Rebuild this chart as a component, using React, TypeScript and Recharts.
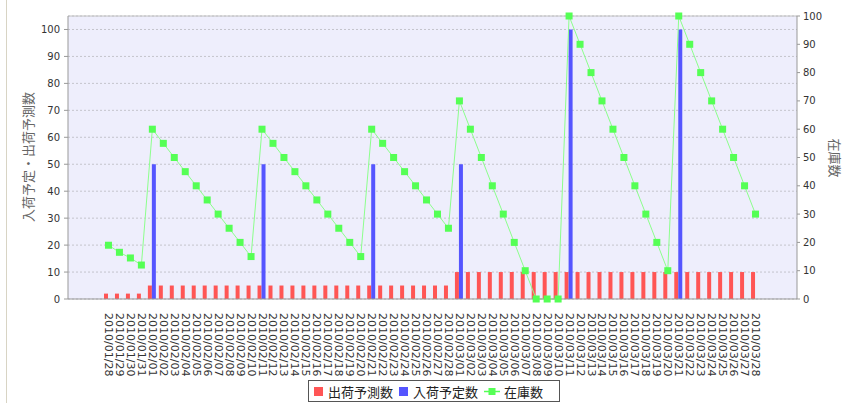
import { ComposedChart, Bar, Line, XAxis, YAxis, CartesianGrid, ReferenceLine } from 'recharts'

const dates = [
  '2010/01/28', '2010/01/29', '2010/01/30', '2010/01/31',
  '2010/02/01', '2010/02/02', '2010/02/03', '2010/02/04', '2010/02/05', '2010/02/06', '2010/02/07',
  '2010/02/08', '2010/02/09', '2010/02/10', '2010/02/11', '2010/02/12', '2010/02/13', '2010/02/14',
  '2010/02/15', '2010/02/16', '2010/02/17', '2010/02/18', '2010/02/19', '2010/02/20', '2010/02/21',
  '2010/02/22', '2010/02/23', '2010/02/24', '2010/02/25', '2010/02/26', '2010/02/27', '2010/02/28',
  '2010/03/01', '2010/03/02', '2010/03/03', '2010/03/04', '2010/03/05', '2010/03/06', '2010/03/07',
  '2010/03/08', '2010/03/09', '2010/03/10', '2010/03/11', '2010/03/12', '2010/03/13', '2010/03/14',
  '2010/03/15', '2010/03/16', '2010/03/17', '2010/03/18', '2010/03/19', '2010/03/20', '2010/03/21',
  '2010/03/22', '2010/03/23', '2010/03/24', '2010/03/25', '2010/03/26', '2010/03/27', '2010/03/28',
]

// 出荷予測数
const shipForecast = [
  2, 2, 2, 2,
  5, 5, 5, 5, 5, 5, 5, 5, 5, 5, 5, 5, 5, 5, 5, 5, 5, 5, 5, 5, 5, 5, 5, 5, 5, 5, 5, 5,
  10, 10, 10, 10, 10, 10, 10, 10, 10, 10, 10, 10, 10, 10,
  10, 10, 10, 10, 10, 10, 10, 10, 10, 10, 10, 10, 10, 10,
]

// 入荷予定数
const arrivalPlan = [
  null, null, null, null,
  50, null, null, null, null, null, null, null, null, null, 50, null, null, null,
  null, null, null, null, null, null, 50, null, null, null, null, null, null, null,
  50, null, null, null, null, null, null, null, null, null, 100, null, null, null,
  null, null, null, null, null, null, 100, null, null, null, null, null, null, null,
]

// 在庫数
const stock = [
  19, 16.5, 14.5, 12,
  60, 55, 50, 45, 40, 35, 30, 25, 20, 15,
  60, 55, 50, 45, 40, 35, 30, 25, 20, 15,
  60, 55, 50, 45, 40, 35, 30, 25,
  70, 60, 50, 40, 30, 20, 10, 0, 0, 0,
  100, 90, 80, 70, 60, 50, 40, 30, 20, 10,
  100, 90, 80, 70, 60, 50, 40, 30,
]

const yTicks = [0, 10, 20, 30, 40, 50, 60, 70, 80, 90, 100]

const data = dates.map((date, i) => ({
  date,
  ship: shipForecast[i],
  arrival: arrivalPlan[i],
  stock: stock[i],
}))

const font = '"DejaVu Sans", sans-serif'
const cjk = '"Noto Sans CJK JP", sans-serif'

function DateTick(props: any) {
  const { x, y, payload } = props
  return (
    <text
      x={x}
      y={y + 6}
      transform={`rotate(90, ${x}, ${y + 6})`}
      textAnchor="start"
      dominantBaseline="central"
      fontSize={11}
      fontFamily={font}
      fill="#333"
    >
      {payload.value}
    </text>
  )
}

function SquareDot(props: any) {
  const { cx, cy } = props
  if (cx == null || cy == null) return null
  return <rect x={cx - 3.5} y={cy - 3.5} width={7} height={7} fill="#55ff55" />
}

function LegendBox() {
  const item = { display: 'flex', alignItems: 'center' } as const
  return (
    <div
      style={{
        position: 'absolute',
        left: 308,
        top: 380,
        width: 245,
        height: 20,
        border: '1px solid #555',
        display: 'flex',
        alignItems: 'center',
        gap: 6,
        paddingLeft: 5,
        boxSizing: 'content-box',
        fontFamily: cjk,
        fontSize: 13,
        color: '#222',
        background: '#fff',
      }}
    >
      <div style={item}>
        <span style={{ width: 9, height: 9, background: '#ff5555', marginRight: 5 }} />
        出荷予測数
      </div>
      <div style={item}>
        <span style={{ width: 9, height: 9, background: '#5555ff', marginRight: 5 }} />
        入荷予定数
      </div>
      <div style={item}>
        <svg width={16} height={9} style={{ marginRight: 4 }}>
          <line x1={0} y1={4.5} x2={16} y2={4.5} stroke="#55ff55" strokeWidth={1.5} />
          <rect x={4.5} y={1} width={7} height={7} fill="#55ff55" />
        </svg>
        在庫数
      </div>
    </div>
  )
}

export default function App() {
  return (
    <div style={{ position: 'absolute', left: 0, top: 0, width: 847, height: 403, background: '#fff' }}>
      <div style={{ position: 'absolute', left: 6, top: 0, width: 1, height: 403, background: '#d8d4c4' }} />
      <ComposedChart
        width={847}
        height={403}
        data={data}
        margin={{ top: 16, right: 0, bottom: 29, left: 8 }}
        barSize={4}
        barGap={0}
      >
        <CartesianGrid
          yAxisId="left"
          vertical={false}
          stroke="#c4c4cc"
          strokeDasharray="2 2"
          fill="#eeeefc"
          fillOpacity={1}
        />
        <ReferenceLine yAxisId="left" y={105} stroke="#c0c0c0" />
        <XAxis
          dataKey="date"
          height={75}
          interval={0}
          tickLine={false}
          padding={{ left: 35, right: 36 }}
          axisLine={{ stroke: '#999' }}
          tick={<DateTick />}
        />
        <YAxis
          yAxisId="left"
          domain={[0, 105]}
          ticks={yTicks}
          interval={0}
          width={60}
          tickSize={4}
          tickMargin={4}
          axisLine={{ stroke: '#999' }}
          tickLine={{ stroke: '#999' }}
          tick={{ fontSize: 10, fill: '#333', fontFamily: font }}
          label={{
            content: () => (
              <text
                transform="translate(27,157) rotate(-90)"
                textAnchor="middle"
                dominantBaseline="central"
                fontSize={13}
                fontFamily={cjk}
                fill="#666"
              >
                入荷予定・出荷予測数
              </text>
            ),
          }}
        />
        <YAxis
          yAxisId="right"
          orientation="right"
          domain={[0, 100]}
          ticks={yTicks}
          interval={0}
          width={50}
          tickSize={3}
          tickMargin={3}
          axisLine={{ stroke: '#999' }}
          tickLine={{ stroke: '#999' }}
          tick={{ fontSize: 10, fill: '#333', fontFamily: font }}
          label={{
            content: () => (
              <text
                transform="translate(835,158) rotate(90)"
                textAnchor="middle"
                dominantBaseline="central"
                fontSize={13}
                fontFamily={cjk}
                fill="#666"
              >
                在庫数
              </text>
            ),
          }}
        />
        <Bar yAxisId="left" dataKey="ship" fill="#ff5555" isAnimationActive={false} />
        <Bar yAxisId="left" dataKey="arrival" fill="#5555ff" isAnimationActive={false} />
        <Line
          yAxisId="right"
          type="linear"
          dataKey="stock"
          stroke="#8cff8c"
          strokeWidth={1}
          dot={<SquareDot />}
          activeDot={false}
          isAnimationActive={false}
        />
      </ComposedChart>
      <LegendBox />
    </div>
  )
}
